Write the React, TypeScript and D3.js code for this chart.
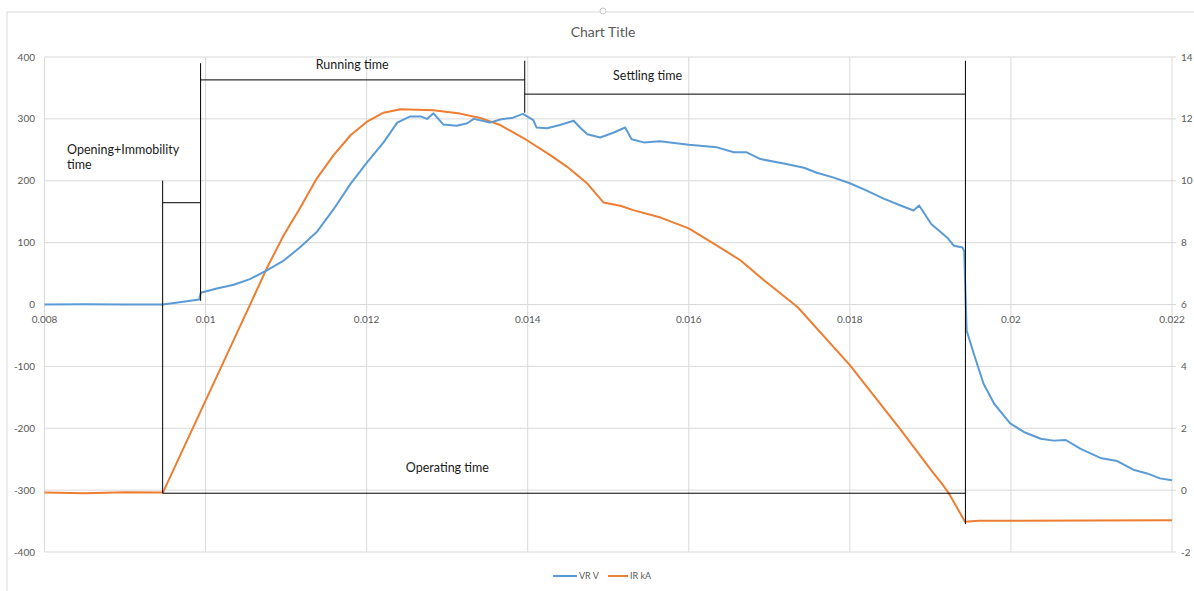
import React from 'react';
import * as d3 from 'd3';

// time (s) vs VR (V), left axis
const vrSeries: [number, number][] = [
  [0.008, 0], [0.0085, 0.5], [0.009, 0], [0.00947, 0],
  [0.0097, 4], [0.00992, 8], [0.00994, 19], [0.01014, 26],
  [0.01035, 32], [0.01055, 41], [0.01076, 55], [0.01097, 71], [0.01117, 92],
  [0.01138, 117], [0.01159, 154], [0.0118, 195], [0.012, 229], [0.01221, 262],
  [0.01238, 294], [0.01254, 304], [0.01267, 304], [0.01275, 300], [0.01283, 309],
  [0.01295, 291], [0.01312, 289], [0.01325, 293], [0.01333, 300], [0.01353, 294],
  [0.01366, 299], [0.01382, 302], [0.01394, 308], [0.01407, 298], [0.01411, 286],
  [0.01424, 285], [0.0144, 290], [0.01457, 297], [0.01465, 286], [0.01474, 275],
  [0.0149, 270], [0.01507, 278], [0.01521, 286], [0.01529, 267], [0.01544, 262],
  [0.01564, 264], [0.016, 258], [0.01635, 254], [0.01656, 246], [0.01672, 246],
  [0.01689, 235], [0.01718, 228], [0.01743, 221], [0.01759, 213], [0.0178, 205],
  [0.018, 196], [0.01821, 184], [0.01842, 171], [0.01863, 160], [0.01879, 152],
  [0.01886, 160], [0.01901, 130], [0.01921, 108], [0.01929, 95], [0.0194, 92],
  [0.01942, 86], [0.01945, -42], [0.01954, -80], [0.01966, -128], [0.01979, -160],
  [0.01999, -192], [0.02016, -206], [0.02037, -217], [0.02053, -220], [0.02068, -219],
  [0.02086, -233], [0.02111, -248], [0.02132, -253], [0.02152, -267], [0.02169, -273],
  [0.02185, -281], [0.022, -284],
];

// time (s) vs IR (kA), right axis
const irSeries: [number, number][] = [
  [0.008, -0.08], [0.0085, -0.1], [0.009, -0.07], [0.00947, -0.08],
  [0.01055, 5.98], [0.01076, 7.17], [0.01097, 8.24], [0.01117, 9.1], [0.01138, 10.07],
  [0.01159, 10.83], [0.0118, 11.47], [0.012, 11.9], [0.01221, 12.2], [0.01242, 12.31],
  [0.01283, 12.28], [0.01316, 12.17], [0.01341, 12.03], [0.01366, 11.8], [0.01399, 11.31],
  [0.01428, 10.83], [0.01449, 10.45], [0.01474, 9.91], [0.01494, 9.3], [0.01515, 9.19],
  [0.01531, 9.05], [0.01565, 8.81], [0.016, 8.46], [0.01631, 7.97], [0.01664, 7.43],
  [0.01693, 6.79], [0.01735, 5.92], [0.018, 4.04], [0.01862, 1.99], [0.01904, 0.54],
  [0.01914, 0.22], [0.01923, -0.11], [0.01943, -1.02], [0.0196, -0.99], [0.021, -0.98],
  [0.022, -0.97],
];

const xTicks = [0.008, 0.01, 0.012, 0.014, 0.016, 0.018, 0.02, 0.022];
const xTickLabels = ['0.008', '0.01', '0.012', '0.014', '0.016', '0.018', '0.02', '0.022'];
const leftTicks = [400, 300, 200, 100, 0, -100, -200, -300, -400];
const rightTicks = [14, 12, 10, 8, 6, 4, 2, 0, -2];

// annotation segments in data units (t, VR)
const markerLines: [number, number, number, number][] = [
  [0.009467, 200, 0.009467, -305],
  [0.009467, -305, 0.019435, -305],
  [0.009467, 164.5, 0.009938, 164.5],
  [0.009938, 390, 0.009938, 6],
  [0.009938, 363, 0.013963, 363],
  [0.013963, 394, 0.013963, 310],
  [0.013963, 340, 0.019435, 340],
  [0.019435, 394, 0.019435, -355],
];

const markerLabels: { t: number; v: number; lines: string[]; anchor: string }[] = [
  { t: 0.00828, v: 243, lines: ['Opening+Immobility', 'time'], anchor: 'start' },
  { t: 0.01182, v: 381, lines: ['Running time'], anchor: 'middle' },
  { t: 0.01506, v: 363, lines: ['Settling time'], anchor: 'start' },
  { t: 0.012487, v: -271, lines: ['Operating time'], anchor: 'start' },
];

const seriesNames = ['VR V', 'IR kA'];
const colors = ['#5b9bd5', '#ed7d31'];

const W = 1194;
const H = 591;
const margin = { top: 57, right: 22, bottom: 39, left: 44.5 };

export default function App() {
  const x = d3.scaleLinear().domain([0.008, 0.022]).range([margin.left, W - margin.right]);
  const yL = d3.scaleLinear().domain([-400, 400]).range([H - margin.bottom, margin.top]);
  const yR = d3.scaleLinear().domain([-2, 14]).range([H - margin.bottom, margin.top]);

  const vrLine = d3.line<[number, number]>().x(d => x(d[0])).y(d => yL(d[1]));
  const irLine = d3.line<[number, number]>().x(d => x(d[0])).y(d => yR(d[1]));

  const font = 'Lato, "Open Sans", sans-serif';
  const gray = '#595959';
  const grid = '#d9d9d9';
  const lineHeight = 15;

  return (
    <svg width={W} height={H} style={{ position: 'absolute', left: 0, top: 0, background: '#fff' }}>
      {/* chart area frame */}
      <rect x={7} y={12} width={W + 20} height={H + 20} fill="#fff" stroke="#d9d9d9" />
      <circle cx={603} cy={11} r={3} fill="#fff" stroke="#c8c8c8" />

      <text x={603} y={37} textAnchor="middle" fontFamily={font} fontSize={14} fill={gray}>Chart Title</text>

      {/* gridlines */}
      {leftTicks.map(v => (
        <line key={'h' + v} x1={margin.left} x2={W - margin.right} y1={yL(v)} y2={yL(v)} stroke={grid} />
      ))}
      {xTicks.map(t => (
        <line key={'v' + t} x1={x(t)} x2={x(t)} y1={margin.top} y2={H - margin.bottom} stroke={grid} />
      ))}

      {/* left axis labels */}
      {leftTicks.map(v => (
        <text key={'l' + v} x={35} y={yL(v) + 3.5} textAnchor="end" fontFamily={font} fontSize={10} fill={gray}>{v}</text>
      ))}
      {/* right axis labels and ticks */}
      {rightTicks.map(v => (
        <g key={'r' + v}>
          <line x1={W - margin.right} x2={W - margin.right + 4} y1={yR(v)} y2={yR(v)} stroke={grid} />
          <text x={1181} y={yR(v) + 3.5} textAnchor="start" fontFamily={font} fontSize={10} fill={gray}>{v}</text>
        </g>
      ))}
      {/* x axis labels */}
      {xTicks.map((t, i) => (
        <text key={'x' + t} x={x(t)} y={yL(0) + 18} textAnchor="middle" fontFamily={font} fontSize={10} fill={gray}>{xTickLabels[i]}</text>
      ))}

      {/* series */}
      <path d={irLine(irSeries) || ''} fill="none" stroke={colors[1]} strokeWidth={2} strokeLinejoin="round" />
      <path d={vrLine(vrSeries) || ''} fill="none" stroke={colors[0]} strokeWidth={2} strokeLinejoin="round" />

      {/* annotations */}
      {markerLines.map((s, i) => (
        <line key={'m' + i} x1={x(s[0])} y1={yL(s[1])} x2={x(s[2])} y2={yL(s[3])} stroke="#000" strokeWidth={1} />
      ))}
      {markerLabels.map((l, i) => (
        <text key={'t' + i} x={x(l.t)} y={yL(l.v)} textAnchor={l.anchor} fontFamily={font} fontSize={12.5} fill="#1a1a1a">
          {l.lines.map((s, j) => (
            <tspan key={j} x={x(l.t)} dy={j === 0 ? 0 : lineHeight}>{s}</tspan>
          ))}
        </text>
      ))}

      {/* legend */}
      <g fontFamily={font} fontSize={9} fill={gray}>
        <line x1={553} x2={577} y1={576} y2={576} stroke={colors[0]} strokeWidth={2} />
        <text x={579} y={579}>{seriesNames[0]}</text>
        <line x1={608} x2={628} y1={576} y2={576} stroke={colors[1]} strokeWidth={2} />
        <text x={630} y={579}>{seriesNames[1]}</text>
      </g>
    </svg>
  );
}
